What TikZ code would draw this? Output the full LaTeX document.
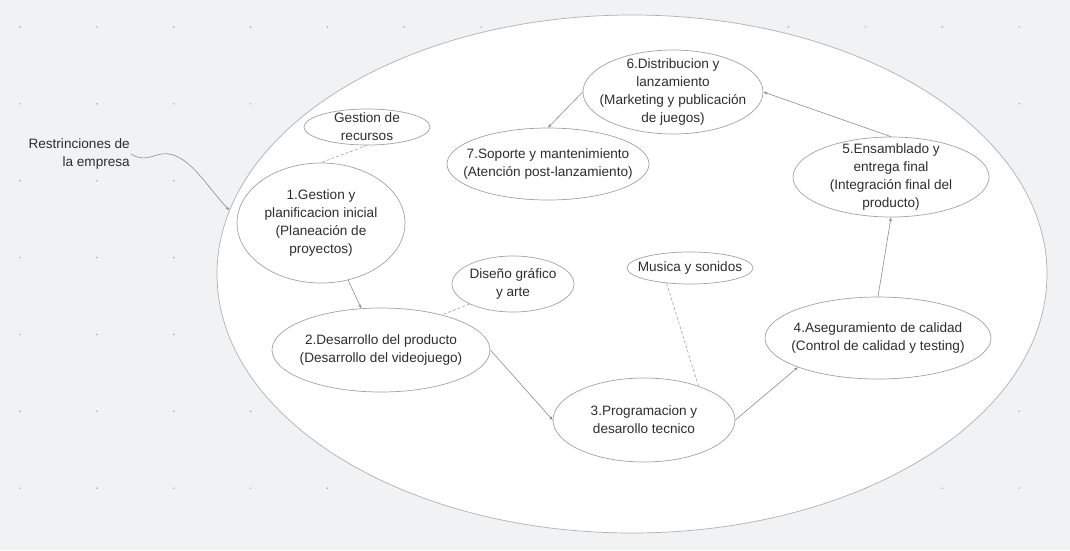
\documentclass[tikz,border=0pt]{standalone}
\usepackage{fontspec}
\setmainfont{Liberation Sans}
\usetikzlibrary{shapes.geometric,arrows.meta}
\definecolor{fondo}{HTML}{F1F2F4}
\definecolor{borde}{HTML}{A2A2A2}
\definecolor{linea}{HTML}{8C8C8C}
\definecolor{tinta}{HTML}{2E2E2E}

\begin{document}
\begin{tikzpicture}[x=1pt,y=-1pt]
            \tikzstyle{texto}=[text=tinta, align=center, font=\fontsize{13.6}{18}\selectfont];
            \tikzstyle{etapa}=[draw=borde, shape=ellipse, line width=0.7pt, inner sep=0pt];
            \tikzstyle{flecha}=[draw=linea, line width=0.6pt, -{Stealth[length=4pt,width=3pt]}];
            \tikzstyle{apoyo}=[draw=borde, line width=0.6pt, dash pattern=on 3pt off 2pt];
            \fill[fondo] (0,0) rectangle (1070,550);
            \useasboundingbox (0,0) rectangle (1070,550);
            \foreach \i in {0,...,13}
                \foreach \j in {0,...,6}
                    \fill[borde] (20+76.85*\i, 27+76.85*\j) circle (0.8);
            \node[etapa, fill=white, draw=borde!85, minimum width=830, minimum height=518] (empresa) at (632,274) {};
            \node[texto, align=right, anchor=east, inner sep=1pt] (restr) at (131,154) {Restrinciones de\\la empresa};
            % recursos de apoyo
            \node[etapa, minimum width=126, minimum height=36, label={[texto]center:{Gestion de\\recursos}}] (rec) at (367,127) {};
            \node[etapa, minimum width=122, minimum height=56, label={[texto]center:{Diseño gráfico\\y arte}}] (dis) at (513,284) {};
            \node[etapa, minimum width=126, minimum height=32, label={[texto]center:{Musica y sonidos}}] (mus) at (690,268) {};
            % etapas
            \node[etapa, minimum width=168, minimum height=120, label={[texto]center:{1.Gestion y\\planificacion inicial\\(Planeación de\\proyectos)}}] (n1) at (321,223) {};
            \node[etapa, minimum width=218, minimum height=84, label={[texto]center:{2.Desarrollo del producto\\(Desarrollo del videojuego)}}] (n2) at (381,350) {};
            \node[etapa, minimum width=182, minimum height=84, label={[texto]center:{3.Programacion y\\desarollo tecnico}}] (n3) at (644,420) {};
            \node[etapa, minimum width=226, minimum height=82, label={[texto]center:{4.Aseguramiento de calidad\\(Control de calidad y testing)}}] (n4) at (878,338) {};
            \node[etapa, minimum width=196, minimum height=80, label={[texto]center:{5.Ensamblado y\\entrega final\\(Integración final del\\producto)}}] (n5) at (891,177) {};
            \node[etapa, minimum width=180, minimum height=84, label={[texto]center:{6.Distribucion y\\lanzamiento\\(Marketing y publicación\\de juegos)}}] (n6) at (673,92) {};
            \node[etapa, minimum width=202, minimum height=72, label={[texto]center:{7.Soporte y mantenimiento\\(Atención post-lanzamiento)}}] (n7) at (548,164) {};
            % conexiones
            \draw[flecha] (restr.east) .. controls (140,160) and (148,158) .. (157,155) .. controls (185,146) and (205,185) .. (empresa.171);
            \draw[apoyo] (rec.south) -- (n1.north);
            \draw[apoyo] (dis.south west) -- (n2.30);
            \draw[apoyo] (mus.213) -- (n3.32);
            \draw[flecha] (n1) -- (n2);
            \draw[flecha] (n2.east) -- (n3.west);
            \draw[flecha] (n3.east) -- (n4.south west);
            \draw[flecha] (n4.north) -- (n5.south);
            \draw[flecha] (n5.north) -- (n6.east);
            \draw[flecha] (n6.west) -- (n7.north);
\end{tikzpicture}
\end{document}
